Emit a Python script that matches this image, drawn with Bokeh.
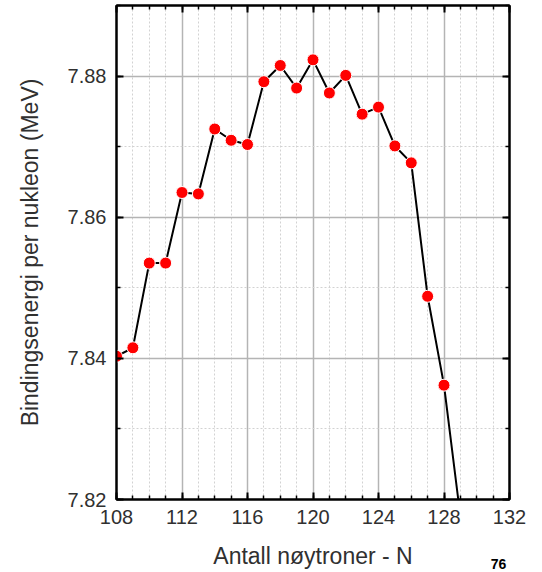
from bokeh.plotting import figure
from bokeh.models import LinearAxis, FixedTicker, NumeralTickFormatter, Range1d, ColumnDataSource
from bokeh.embed import file_html
from bokeh.resources import INLINE

# ---- data ----
neutrons = [108, 109, 110, 111, 112, 113, 114, 115, 116, 117, 118,
            119, 120, 121, 122, 123, 124, 125, 126, 127, 128, 129]
binding = [7.8403, 7.8415, 7.8535, 7.8535, 7.8635, 7.8633, 7.8725, 7.8709,
           7.8703, 7.8792, 7.8815, 7.8783, 7.8823, 7.8776, 7.8801, 7.8746,
           7.8756, 7.8701, 7.8677, 7.8488, 7.8362, 7.8176]

x_major = [108, 112, 116, 120, 124, 128, 132]
x_minor = list(range(108, 133))
y_major = [7.82, 7.84, 7.86, 7.88]
y_minor = [7.82, 7.83, 7.84, 7.85, 7.86, 7.87, 7.88, 7.89]
x_title = "Antall nøytroner - N"
y_title = "Bindingsenergi per nukleon (MeV)"
page_no = "76"

FONT = "Liberation Sans"
TXT = "#303030"

p = figure(frame_width=393, frame_height=494,
           x_range=Range1d(108, 132), y_range=Range1d(7.82, 7.89),
           output_backend="svg", toolbar_location=None,
           min_border_left=116, min_border_right=33,
           min_border_top=5, min_border_bottom=73)
p.background_fill_color = "white"
p.border_fill_color = "white"
p.outline_line_color = "black"
p.outline_line_width = 2

top = LinearAxis()
right = LinearAxis()
p.add_layout(top, "above")
p.add_layout(right, "right")

xt = FixedTicker(ticks=x_major, minor_ticks=x_minor)
yt = FixedTicker(ticks=y_major, minor_ticks=y_minor)

for ax in [p.below[0], top]:
    ax.ticker = xt
for ax in [p.left[0], right]:
    ax.ticker = yt

for ax in [p.below[0], top, p.left[0], right]:
    ax.major_tick_in = 7
    ax.major_tick_out = 0
    ax.minor_tick_in = 4
    ax.minor_tick_out = 0
    ax.major_tick_line_width = 2
    ax.minor_tick_line_width = 1.5
    ax.major_tick_line_color = "black"
    ax.minor_tick_line_color = "black"
    ax.axis_line_width = 2
    ax.axis_line_color = "black"
    ax.major_label_text_font = FONT
    ax.major_label_text_color = TXT
    ax.major_label_text_font_size = "20px"

top.major_label_overrides = {v: "" for v in x_major}
right.major_label_overrides = {v: "" for v in y_major}
for ax in [top, right]:
    ax.major_label_standoff = 0
    ax.major_label_text_font_size = "1px"

xa = p.below[0]
ya = p.left[0]
ya.formatter = NumeralTickFormatter(format="0.00")
xa.major_label_standoff = 10
ya.major_label_standoff = 10
xa.axis_label = x_title
ya.axis_label = y_title
for ax in [xa, ya]:
    ax.axis_label_text_font = FONT
    ax.axis_label_text_font_size = "23px"
    ax.axis_label_text_font_style = "normal"
    ax.axis_label_text_color = TXT
xa.axis_label_standoff = 16
ya.axis_label_standoff = 22

p.xgrid.ticker = xt
p.ygrid.ticker = yt
for g in [p.xgrid, p.ygrid]:
    g.grid_line_color = "#b4b4b4"
    g.grid_line_width = 1.5
    g.minor_grid_line_color = "#d2d2d2"
    g.minor_grid_line_width = 1
    g.minor_grid_line_dash = "2 2"

src = ColumnDataSource(dict(x=neutrons, y=binding))
p.line("x", "y", source=src, line_color="black", line_width=2)
p.scatter("x", "y", source=src, size=12, fill_color="#ff0000",
          line_color="white", line_width=1)

# page number below the chart, drawn as the only label of a bare extra axis
page_x = 131.33
page_axis = LinearAxis(ticker=FixedTicker(ticks=[page_x], minor_ticks=[]),
                       major_label_overrides={page_x: page_no},
                       major_label_text_font=FONT,
                       major_label_text_font_size="14px",
                       major_label_text_font_style="bold",
                       major_label_text_color="black",
                       major_label_standoff=-13,
                       axis_line_color=None,
                       major_tick_line_color=None,
                       minor_tick_line_color=None,
                       major_tick_in=0, major_tick_out=0,
                       minor_tick_in=0, minor_tick_out=0)
p.add_layout(page_axis, "below")

open("out.html", "w").write(file_html(p, INLINE))
